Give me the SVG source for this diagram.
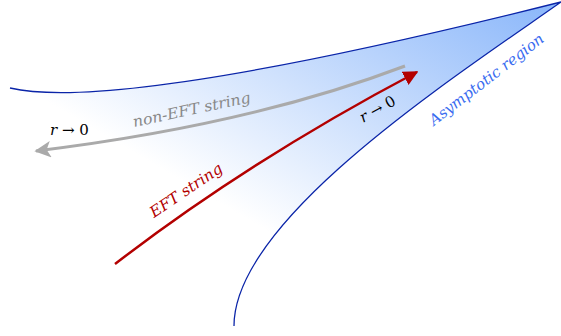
<svg xmlns="http://www.w3.org/2000/svg" width="561" height="336" viewBox="0 0 561 336">
<style>
.lbl{font-family:'DejaVu Serif',serif;font-style:italic;font-size:15px}
.bd{fill:none;stroke:#0a24a8;stroke-width:1.3}
</style>
<defs>
<linearGradient id="g" gradientUnits="userSpaceOnUse" x1="561" y1="0" x2="385" y2="300">
<stop offset="0" stop-color="#88b5fa"/>
<stop offset="1" stop-color="#ffffff"/>
</linearGradient>
<marker id="ar" viewBox="0 0 10 10" refX="9" refY="5" markerWidth="6" markerHeight="6" markerUnits="strokeWidth" orient="auto">
<path d="M0,0 L10,5 L0,10 z" fill="#b30000"/>
</marker>
<marker id="ag" viewBox="0 0 10 10" refX="9" refY="5" markerWidth="5.5" markerHeight="5.5" markerUnits="strokeWidth" orient="auto">
<path d="M0,0 L10,5 L0,10 L2.5,5 z" fill="#aaaaaa"/>
</marker>
</defs>
<g id="region">
<path d="M10,88 C80,104 250,80 561,2 C450,80 234,220 234,326 L10,88 z" fill="url(#g)"/>
<path class="bd" d="M10,88 C80,104 250,80 561,2 C450,80 234,220 234,326"/>
</g>
<g id="connectors">
<path d="M405,66 Q250,125 36,151" fill="none" stroke="#aaaaaa" stroke-width="3" marker-end="url(#ag)"/>
<path d="M115,264 Q250,160 417,72" fill="none" stroke="#b30000" stroke-width="2.5" marker-end="url(#ar)"/>
</g>
<g id="labels">
<text class="lbl" x="50" y="135" fill="#000">r <tspan font-style="normal">→ 0</tspan></text>
<text class="lbl" transform="translate(134,127) rotate(-12)" fill="#888888" textLength="120" lengthAdjust="spacingAndGlyphs">non-EFT string</text>
<text class="lbl" transform="translate(154,218) rotate(-34)" fill="#b30000" textLength="84" lengthAdjust="spacingAndGlyphs">EFT string</text>
<text class="lbl" transform="translate(363,123) rotate(-29)" fill="#000">r <tspan font-style="normal">→ 0</tspan></text>
<text class="lbl" transform="translate(434,126) rotate(-37.5)" fill="#3a6cf0" textLength="140" lengthAdjust="spacingAndGlyphs">Asymptotic region</text>
</g>
</svg>
